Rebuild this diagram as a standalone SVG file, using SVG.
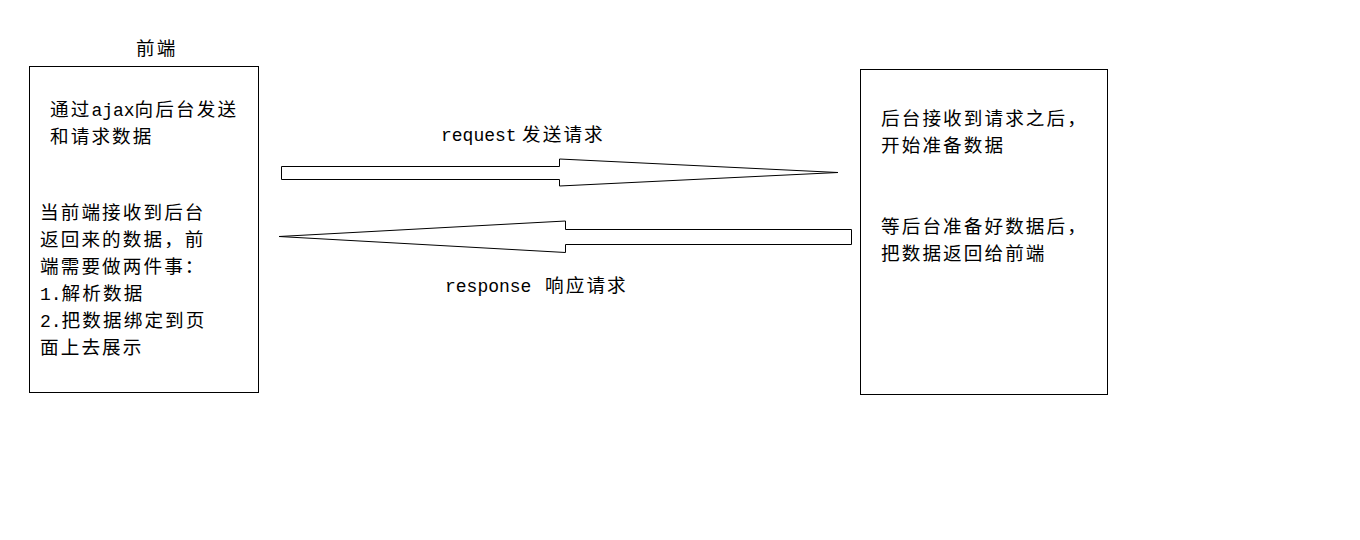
<svg xmlns="http://www.w3.org/2000/svg" width="1360" height="540" viewBox="0 0 1360 540">
  <style>
    .box { fill: #ffffff; stroke: #000000; stroke-width: 1; }
    .arrow { fill: #ffffff; stroke: #000000; stroke-width: 1; stroke-linejoin: miter; }
    .zh { font-family: "Noto Sans CJK SC", "Noto Sans", sans-serif; font-size: 18.6px; letter-spacing: 2.1px; fill: #000000; }
    .en { font-family: "Liberation Mono", "DejaVu Sans Mono", monospace; font-size: 18px; letter-spacing: 0; }
  </style>

  <rect width="1360" height="540" fill="#ffffff"/>

  <!-- front end -->
  <g id="frontend">
    <text class="zh" x="136" y="55">前端</text>
    <rect class="box" x="29.5" y="66.5" width="229" height="326"/>
    <text class="zh" x="50" y="116">通过<tspan class="en">ajax</tspan>向后台发送<tspan x="50" dy="27">和请求数据</tspan></text>
    <text class="zh" x="40" y="219">当前端接收到后台<tspan x="40" dy="27">返回来的数据，前</tspan><tspan x="40" dy="27">端需要做两件事：</tspan><tspan x="40" dy="27" class="en">1.</tspan>解析数据<tspan x="40" dy="27" class="en">2.</tspan>把数据绑定到页<tspan x="40" dy="27">面上去展示</tspan></text>
  </g>

  <!-- back end -->
  <g id="backend">
    <rect class="box" x="860.5" y="69.5" width="247" height="325"/>
    <text class="zh" x="881" y="125">后台接收到请求之后，<tspan x="881" dy="27">开始准备数据</tspan></text>
    <text class="zh" x="881" y="233">等后台准备好数据后，<tspan x="881" dy="27">把数据返回给前端</tspan></text>
  </g>

  <!-- request / response arrows -->
  <g id="connectors">
    <polygon class="arrow" points="281.5,166.5 559.5,166.5 559.5,159 838,172.5 559.5,186 559.5,179.5 281.5,179.5"/>
    <text class="zh" x="441" y="141"><tspan class="en">request</tspan><tspan x="522">发送请求</tspan></text>

    <polygon class="arrow" points="851.5,229.5 565.5,229.5 565.5,221 279,236.5 565.5,252.5 565.5,244.5 851.5,244.5"/>
    <text class="zh" x="445" y="292"><tspan class="en">response</tspan><tspan x="545">响应请求</tspan></text>
  </g>
</svg>
